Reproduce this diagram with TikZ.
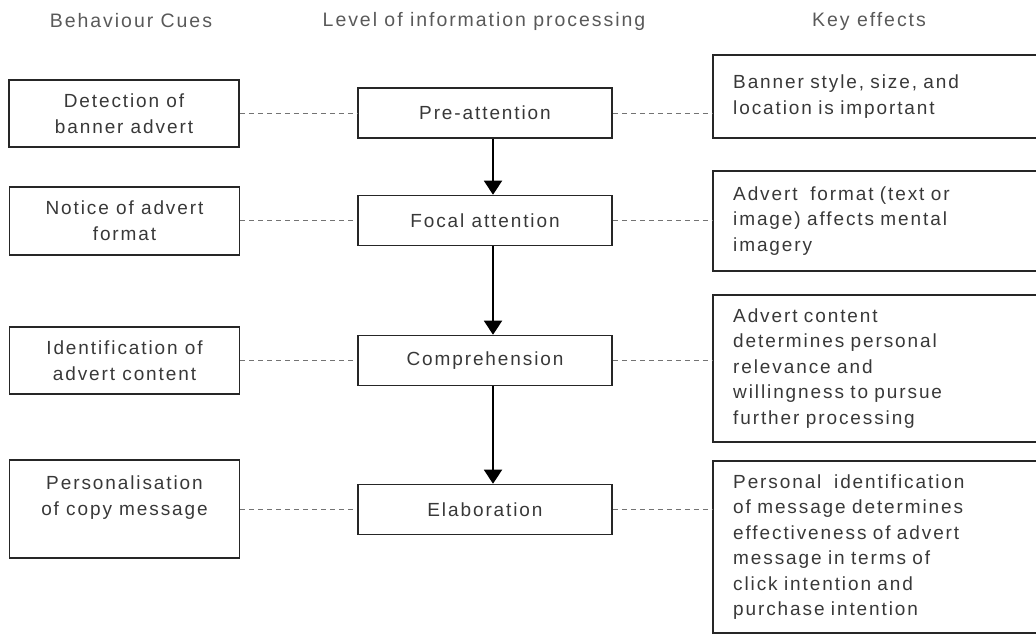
\documentclass[tikz,border=0pt]{standalone}
\usepackage{fontspec}
\setmainfont{Liberation Sans}[LetterSpace=10]
\usetikzlibrary{arrows.meta}
\definecolor{txt}{gray}{0.22}
\definecolor{hd}{gray}{0.35}
\tikzset{
  box/.style={draw=black!85, line width=1.6pt, inner sep=0pt, align=center, text=txt,
    font=\fontsize{19}{26}\selectfont},
  lbox/.style={box, minimum width=230pt},
  mbox/.style={box, minimum width=254pt, minimum height=50pt},
  rbox/.style={anchor=west, inner xsep=20pt, inner ysep=0pt, text width=300pt, align=left,
    text=txt, font=\fontsize{19}{25.5}\selectfont},
  rside/.style={draw=black!85, line width=1.6pt},
  head/.style={text=hd, font=\fontsize{19.5}{22}\selectfont},
  link/.style={draw=black!55, line width=0.9pt, dash pattern=on 5pt off 4pt},
  flow/.style={draw=black, line width=2pt, -{Triangle[width=18pt,length=14pt]}}
}
\begin{document}
\begin{tikzpicture}[x=1pt,y=-1pt]
\useasboundingbox (0,0) rectangle (1036,641);
% headings
\node[head] (h1) at (131,21) {Behaviour Cues};
\node[head] (h2) at (484,21) {Level of information processing};
\node[head] (h3) at (869,21) {Key effects};
% left boxes
\node[lbox, minimum height=67pt] (l1) at (124,113.5) {Detection of\\banner advert};
\node[lbox, minimum height=68pt] (l2) at (124.5,221) {Notice of advert\\format};
\node[lbox, minimum height=67pt] (l3) at (124.5,360.5) {Identification of\\advert  content};
\node[lbox, minimum height=98pt] (l4) at (124.5,509) {Personalisation\\of copy message\\\mbox{}};
% middle boxes
\node[mbox] (m1) at (485,113) {Pre-attention};
\node[mbox] (m2) at (485,220.5) {Focal attention};
\node[mbox] (m3) at (485,360.5) {Comprehension};
\node[mbox] (m4) at (485,509.5) {Elaboration};
% right boxes (open at the right edge)
\node[rbox, minimum height=83pt] (r1) at (713,96.5) {Banner style, size, and\\location is important};
\node[rbox, minimum height=100pt] (r2) at (713,221) {Advert \ format (text or\\image) affects mental\\imagery};
\node[rbox, minimum height=147pt] (r3) at (713,368.5) {Advert content\\determines personal\\relevance and\\willingness to pursue\\further processing};
\node[rbox, minimum height=172pt] (r4) at (713,547) {Personal \ identification\\of message determines\\effectiveness of advert\\message in terms of\\click intention and\\purchase intention};
\foreach \r in {r1,r2,r3,r4}{
  \draw[rside] (\r.north east) -- (\r.north west) -- (\r.south west) -- (\r.south east);
}
% flow arrows
\coordinate (ax) at (493,0);
\draw[flow] (m1.south -| ax) -- (m2.north -| ax);
\draw[flow] (m2.south -| ax) -- (m3.north -| ax);
\draw[flow] (m3.south -| ax) -- (m4.north -| ax);
% dashed links
\foreach \i in {1,2,3,4}{
  \draw[link] (l\i.east |- m\i.west) -- (m\i.west);
  \draw[link] (m\i.east) -- (r\i.west |- m\i.east);
}
\end{tikzpicture}
\end{document}
